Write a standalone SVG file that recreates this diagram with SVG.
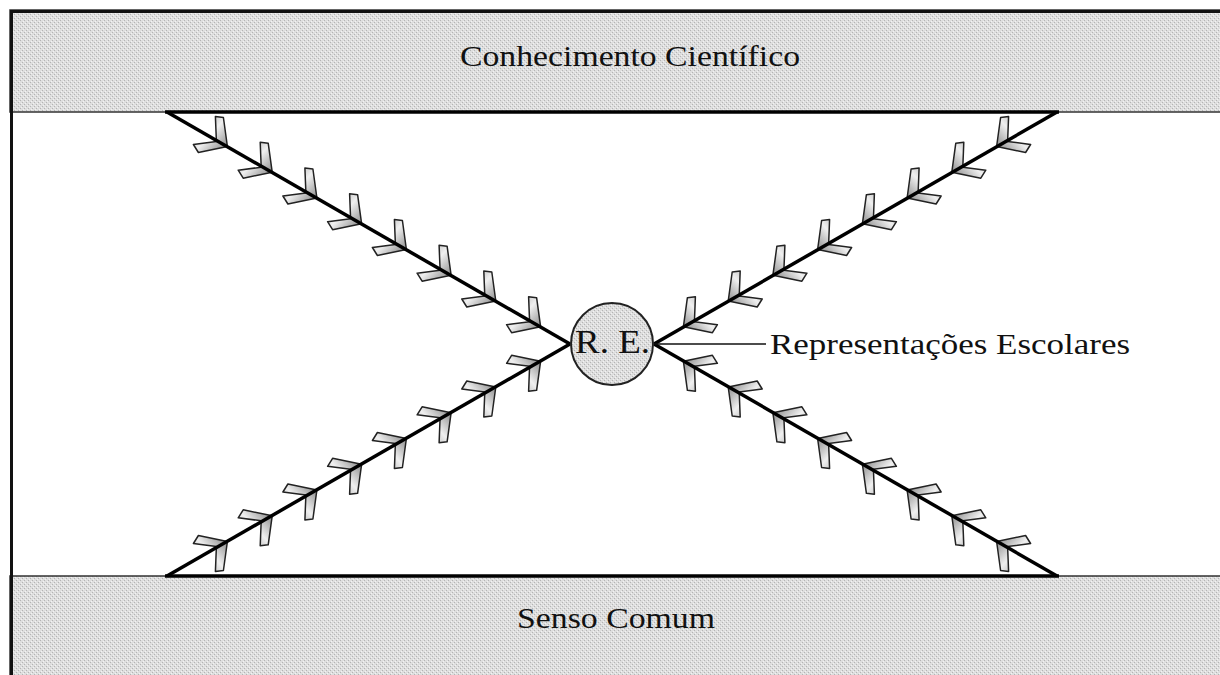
<svg xmlns="http://www.w3.org/2000/svg" xmlns:xlink="http://www.w3.org/1999/xlink" width="1220" height="675" viewBox="0 0 1220 675">
  <style>
    .band { fill: url(#dots); stroke: #333; stroke-width: 1.5; }
    .frame { fill: none; stroke: #111; stroke-width: 3; }
    .edge { stroke: #000; stroke-width: 3.5; fill: none; stroke-linecap: butt; }
    .label { font-family: "Liberation Serif", "Times New Roman", serif; fill: #111; }
    .lead { stroke: #111; stroke-width: 1.6; }
  </style>
  <defs>
    <pattern id="dots" width="4" height="4" patternUnits="userSpaceOnUse">
      <rect width="4" height="4" fill="#dedede"/>
      <rect x="0" y="0" width="1" height="1" fill="#b4b4b4"/>
      <rect x="2" y="2" width="1" height="1" fill="#b4b4b4"/>
      <rect x="1" y="3" width="1" height="1" fill="#f2f2f2"/>
      <rect x="3" y="1" width="1" height="1" fill="#f2f2f2"/>
    </pattern>
    <linearGradient id="cg" x1="0" y1="0" x2="1" y2="1">
      <stop offset="0" stop-color="#8f8f8f"/>
      <stop offset="0.5" stop-color="#f0f0f0"/>
      <stop offset="1" stop-color="#7a7a7a"/>
    </linearGradient>
    <polygon id="chev" points="-8,-28 0,-27 4,2 -25,8 -30,0 -7,-3" fill="url(#cg)" stroke="#222" stroke-width="1.5" stroke-linejoin="round"/>
  </defs>

  <rect x="0" y="0" width="1220" height="675" fill="#fff"/>

  <g id="top-band">
    <rect class="band" x="10" y="10" width="1220" height="102"/>
    <text class="label" x="460" y="66" font-size="30" textLength="340" lengthAdjust="spacingAndGlyphs">Conhecimento Científico</text>
  </g>

  <g id="bottom-band">
    <rect class="band" x="10" y="576" width="1220" height="110"/>
    <text class="label" x="517" y="628" font-size="30" textLength="198" lengthAdjust="spacingAndGlyphs">Senso Comum</text>
  </g>

  <path class="frame" d="M11.5,690 V11.5 H1230"/>

  <g id="connectors">
    <line class="edge" x1="165" y1="112" x2="1059" y2="112"/>
    <line class="edge" x1="165" y1="576" x2="1059" y2="576"/>

    <!-- top-left -->
    <use xlink:href="#chev" transform="translate(223.4,144.5)"/>
    <use xlink:href="#chev" transform="translate(268.2,170.2)"/>
    <use xlink:href="#chev" transform="translate(312.9,196.0)"/>
    <use xlink:href="#chev" transform="translate(357.6,221.7)"/>
    <use xlink:href="#chev" transform="translate(402.4,247.5)"/>
    <use xlink:href="#chev" transform="translate(447.1,273.2)"/>
    <use xlink:href="#chev" transform="translate(491.8,299.0)"/>
    <use xlink:href="#chev" transform="translate(536.6,324.7)"/>
    <!-- bottom-left -->
    <use xlink:href="#chev" transform="translate(223.4,543.5) scale(1,-1)"/>
    <use xlink:href="#chev" transform="translate(268.2,517.8) scale(1,-1)"/>
    <use xlink:href="#chev" transform="translate(312.9,492.0) scale(1,-1)"/>
    <use xlink:href="#chev" transform="translate(357.6,466.3) scale(1,-1)"/>
    <use xlink:href="#chev" transform="translate(402.4,440.5) scale(1,-1)"/>
    <use xlink:href="#chev" transform="translate(447.1,414.8) scale(1,-1)"/>
    <use xlink:href="#chev" transform="translate(491.8,389.0) scale(1,-1)"/>
    <use xlink:href="#chev" transform="translate(536.6,363.3) scale(1,-1)"/>
    <!-- top-right -->
    <use xlink:href="#chev" transform="translate(1000.6,144.5) scale(-1,1)"/>
    <use xlink:href="#chev" transform="translate(955.8,170.2) scale(-1,1)"/>
    <use xlink:href="#chev" transform="translate(911.1,196.0) scale(-1,1)"/>
    <use xlink:href="#chev" transform="translate(866.4,221.7) scale(-1,1)"/>
    <use xlink:href="#chev" transform="translate(821.6,247.5) scale(-1,1)"/>
    <use xlink:href="#chev" transform="translate(776.9,273.2) scale(-1,1)"/>
    <use xlink:href="#chev" transform="translate(732.2,299.0) scale(-1,1)"/>
    <use xlink:href="#chev" transform="translate(687.4,324.7) scale(-1,1)"/>
    <!-- bottom-right -->
    <use xlink:href="#chev" transform="translate(1000.6,543.5) scale(-1,-1)"/>
    <use xlink:href="#chev" transform="translate(955.8,517.8) scale(-1,-1)"/>
    <use xlink:href="#chev" transform="translate(911.1,492.0) scale(-1,-1)"/>
    <use xlink:href="#chev" transform="translate(866.4,466.3) scale(-1,-1)"/>
    <use xlink:href="#chev" transform="translate(821.6,440.5) scale(-1,-1)"/>
    <use xlink:href="#chev" transform="translate(776.9,414.8) scale(-1,-1)"/>
    <use xlink:href="#chev" transform="translate(732.2,389.0) scale(-1,-1)"/>
    <use xlink:href="#chev" transform="translate(687.4,363.3) scale(-1,-1)"/>

    <line class="edge" x1="167" y1="112" x2="570" y2="344"/>
    <line class="edge" x1="167" y1="576" x2="570" y2="344"/>
    <line class="edge" x1="1057" y1="112" x2="654" y2="344"/>
    <line class="edge" x1="1057" y1="576" x2="654" y2="344"/>
    <line class="lead" x1="654" y1="344" x2="766" y2="344"/>
  </g>

  <g id="re-node">
    <circle cx="612" cy="344" r="41" fill="url(#dots)" stroke="#222" stroke-width="2"/>
    <text class="label" x="575" y="353" font-size="34" textLength="75" lengthAdjust="spacingAndGlyphs">R. E.</text>
  </g>

  <g id="re-label">
    <text class="label" x="770" y="354" font-size="30" textLength="360" lengthAdjust="spacingAndGlyphs">Representações Escolares</text>
  </g>
</svg>
